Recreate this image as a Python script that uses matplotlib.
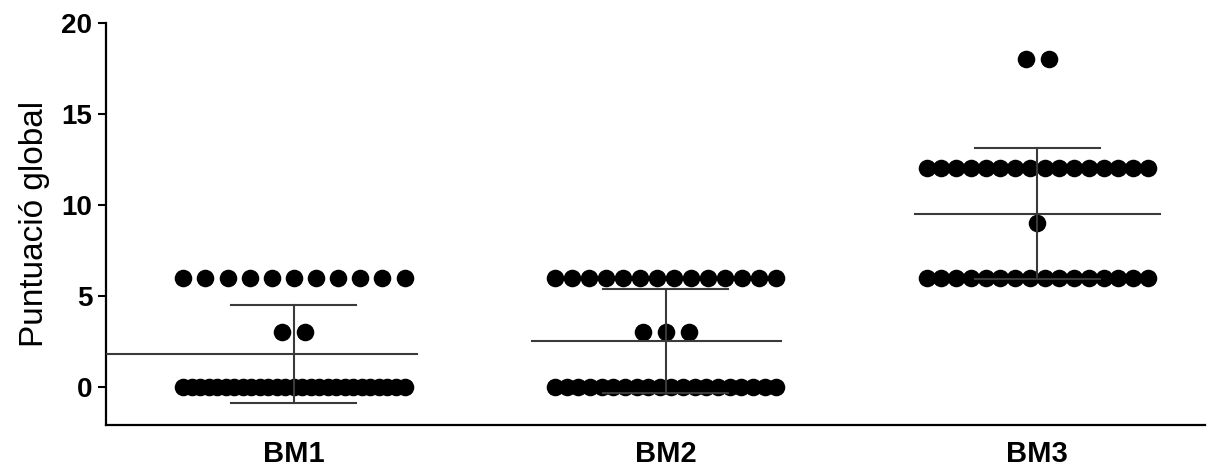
import matplotlib
matplotlib.use("Agg")
import matplotlib.pyplot as plt
import numpy as np

plt.rcParams['font.family'] = ['Liberation Sans', 'DejaVu Sans']

# data: score value -> number of subjects with that score
groups = ["BM1", "BM2", "BM3"]
bm1_values = [0, 3, 6]
bm1_counts = [27, 2, 11]
bm2_values = [0, 3, 6]
bm2_counts = [20, 3, 14]
bm3_values = [6, 9, 12, 18]
bm3_counts = [16, 1, 16, 2]

data = [(bm1_values, bm1_counts), (bm2_values, bm2_counts), (bm3_values, bm3_counts)]

fig = plt.figure(figsize=(12.07, 4.69), dpi=100)
ax = fig.add_axes([0.088, 0.094, 0.91, 0.857])

row_max = 0.595   # widest spread of one row of dots
step_max = 0.062  # natural spacing between dots
mean_left = [0.505, 0.36, 0.33]   # how far the mean line reaches left/right
mean_right = [0.33, 0.31, 0.33]

for i, (vals, counts) in enumerate(data):
    pts = np.repeat(vals, counts)
    for v, c in zip(vals, counts):
        step = step_max if c < 2 else min(step_max, row_max / (c - 1))
        xs = i + (np.arange(c) - (c - 1) / 2) * step
        ax.scatter(xs, np.full(c, v), s=160, color="black", zorder=2, linewidths=0)
    m = pts.mean()
    sd = pts.std(ddof=1)
    lc = "#3a3a3a"
    ax.plot([i - mean_left[i], i + mean_right[i]], [m, m], color=lc, lw=1.5, zorder=3)
    ax.plot([i, i], [m - sd, m + sd], color=lc, lw=1.5, zorder=3)
    ax.plot([i - 0.168, i + 0.168], [m + sd, m + sd], color=lc, lw=1.5, zorder=3)
    ax.plot([i - 0.168, i + 0.168], [m - sd, m - sd], color=lc, lw=1.5, zorder=3)

ax.set_xlim(-0.505, 2.45)
ax.set_ylim(-2.1, 20)
ax.set_yticks([0, 5, 10, 15, 20])
ax.set_xticks(range(len(groups)))
ax.set_xticklabels(groups)
ax.set_ylabel("Puntuació global", fontsize=24, labelpad=8)

for s in ["top", "right"]:
    ax.spines[s].set_visible(False)
for s in ["left", "bottom"]:
    ax.spines[s].set_linewidth(1.6)
ax.tick_params(axis="y", length=6, width=1.5, labelsize=20, pad=4)
ax.tick_params(axis="x", length=0, labelsize=21, pad=11)
for lab in ax.get_xticklabels() + ax.get_yticklabels():
    lab.set_fontweight("bold")

plt.savefig("out.png", dpi=100)
